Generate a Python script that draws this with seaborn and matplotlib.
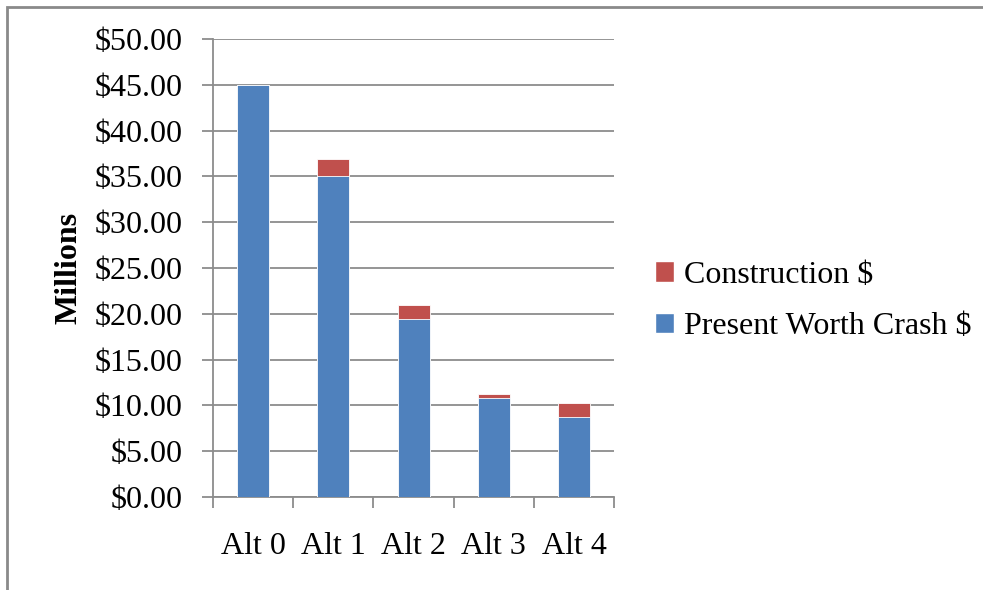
import seaborn as sns
import pandas as pd
import matplotlib.pyplot as plt
from matplotlib.patches import Patch, Rectangle

# values (millions of dollars)
alts = ['Alt 0', 'Alt 1', 'Alt 2', 'Alt 3', 'Alt 4']
crash = [45.0, 35.0, 19.4, 10.85, 8.75]
construction = [0.0, 1.9, 1.6, 0.45, 1.5]
yticks = [0, 5, 10, 15, 20, 25, 30, 35, 40, 45, 50]

df = pd.DataFrame({'alt': alts, 'crash': crash, 'construction': construction})
df['total'] = df['crash'] + df['construction']

blue = '#4F81BD'
red = '#C0504D'
grid_col = '#8C8C8C'

sns.set_theme(style='white')
plt.rcParams['font.family'] = ['Liberation Serif', 'DejaVu Serif']
plt.rcParams['text.color'] = 'black'
plt.rcParams['axes.labelcolor'] = 'black'
plt.rcParams['xtick.color'] = 'black'
plt.rcParams['ytick.color'] = 'black'

fig = plt.figure(figsize=(9.83, 5.90), dpi=100)
ax = fig.add_axes([0.2167, 0.1576, 0.408, 0.7763])

# stacked bars: total in red, crash part in blue on top of it
sns.barplot(data=df, x='alt', y='total', color=red, width=0.4, saturation=1,
            linewidth=0.6, ax=ax, zorder=3)
sns.barplot(data=df, x='alt', y='crash', color=blue, width=0.4, saturation=1,
            linewidth=0.6, ax=ax, zorder=4)

ax.set_xlim(-0.5, 4.5)
ax.set_ylim(0, 50)
ax.set_yticks(yticks)
ax.set_yticklabels([f'${v:.2f}' for v in yticks], fontsize=23)
ax.yaxis.grid(True, color=grid_col, linewidth=1.3)
ax.set_axisbelow(True)

ax.set_xticks(range(len(alts)))
ax.set_xticklabels(alts, fontsize=23)
ax.set_xticks([i - 0.5 for i in range(len(alts) + 1)], minor=True)
ax.tick_params(axis='x', which='major', length=0, pad=25)
ax.tick_params(axis='x', which='minor', length=8, width=1.3, color=grid_col, bottom=True)
ax.tick_params(axis='y', length=8, width=1.3, color=grid_col, left=True, pad=14)

for s in ['top', 'right']:
    ax.spines[s].set_visible(False)
for s in ['left', 'bottom']:
    ax.spines[s].set_color(grid_col)
    ax.spines[s].set_linewidth(1.3)

ax.set_xlabel('')
ax.set_ylabel('Millions', fontsize=23, fontweight='bold', labelpad=8)

handles = [Patch(facecolor=red, label='Construction $'),
           Patch(facecolor=blue, label='Present Worth Crash $')]
fig.legend(handles=handles, loc='center left', bbox_to_anchor=(0.637, 0.49),
           frameon=False, fontsize=23, handlelength=0.6, handleheight=0.6,
           handletextpad=0.3, labelspacing=0.7)

# chart area frame (only top and left edges visible in the original)
fig.patches.append(Rectangle((7 / 983, -0.1), 1.2, (590 - 7) / 590 + 0.1,
                             transform=fig.transFigure, fill=False,
                             edgecolor='#8A8A8A', linewidth=2))

fig.savefig('out.png', dpi=100)
